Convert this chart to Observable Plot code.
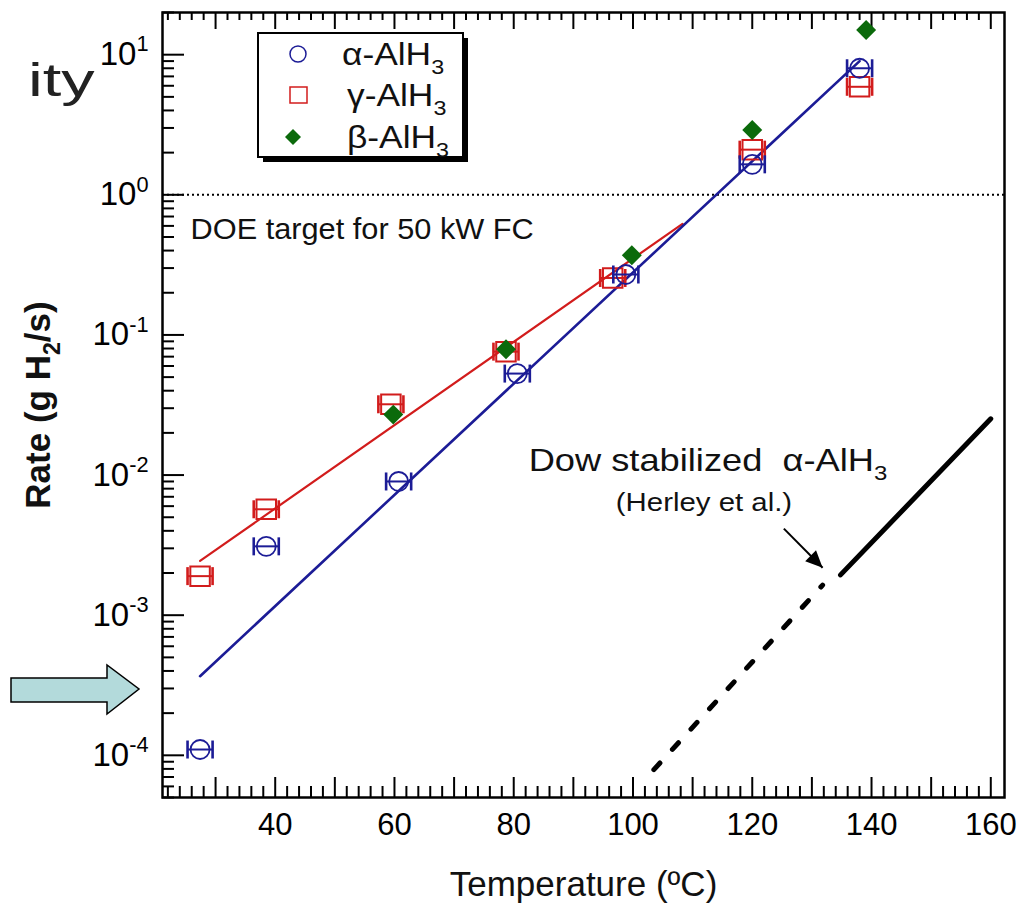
<!DOCTYPE html>
<html><head><meta charset="utf-8">
<script src="https://cdn.jsdelivr.net/npm/d3@7"></script>
<script src="https://cdn.jsdelivr.net/npm/@observablehq/plot@0.6"></script>
<style>
body{margin:0;background:#fff;font-family:"Liberation Sans",Arial,Helvetica,sans-serif;}
#wrap{position:relative;width:1021px;height:905px;overflow:hidden;background:#fff}
#wrap svg{position:absolute;left:0;top:0}
.ov{position:absolute;left:0;top:0;pointer-events:none}
</style></head><body><div id="wrap"></div>
<script>
// ---- data ----
const alphaT    = [27.4, 38.5, 60.7, 80.6, 98.8, 120.0, 138.0];
const alphaRate = [1.1e-4, 3.1e-3, 9.0e-3, 0.053, 0.27, 1.65, 8.0];
const alphaErr  = [2.1, 2.1, 2.1, 2.1, 2.1, 2.1, 2.1];
const gammaT    = [27.4, 38.5, 59.4, 78.7, 96.6, 120.0, 138.0];
const gammaRate = [1.9e-3, 5.7e-3, 0.032, 0.076, 0.255, 2.1, 5.9];
const gammaErr  = [2.1, 2.1, 2.1, 2.1, 2.1, 2.1, 2.1];
const betaT     = [59.8, 78.7, 99.8, 120.0, 139.1];
const betaRate  = [0.027, 0.079, 0.37, 2.9, 15];
const alphaFitT = [27.4, 138.0];
const alphaFitRate = [3.67e-4, 9.0];
const gammaFitT = [27.4, 108.3];
const gammaFitRate = [2.44e-3, 0.62];
const dowDashT = [103.5, 131.8];
const dowDashRate = [7.9e-5, 1.64e-3];
const dowSolidT = [134.8, 160];
const dowSolidRate = [1.94e-3, 0.0252];
const doeTarget = 1;
const xTickLabels = [40, 60, 80, 100, 120, 140, 160];
const xMajor = [30, 40, 50, 60, 70, 80, 90, 100, 110, 120, 130, 140, 150, 160];
const xMinor = d3.range(22, 162, 2).filter(v => v % 10 !== 0);
const yTickLabels = [1e-4, 1e-3, 1e-2, 1e-1, 1, 10];
const yMinor = [];
for (let k = -5; k <= 1; k++) for (let m = 2; m <= 9; m++) { const v = m * Math.pow(10, k); if (v >= 5e-5 && v <= 20) yMinor.push(v); }
const doeLabel = {x: 25.8, y: 0.56, text: "DOE target for 50 kW FC"};
const dowLabel = {x: 82.5, y: 0.0126, text: "Dow stabilized  α-AlH_{3}"};
const herleyLabel = {x: 111.9, y: 6.4e-3, text: "(Herley et al.)"};
const arrowFrom = {x: 125.3, y: 4.15e-3};
const arrowTo = {x: 131.8, y: 2.18e-3};
const legendNames = ["α-AlH_{3}", "γ-AlH_{3}", "β-AlH_{3}"];

// ---- layout ----
const W = 1021, H = 905, mL = 162, mT = 12, mR = 17, mB = 108;
const innerW = W - mL - mR, innerH = H - mT - mB;
const BLUE = "#1c1c96", RED = "#d21c1c", GREEN = "#0b6a0b";
const FONT = "Liberation Sans, Arial, Helvetica, sans-serif";

const alpha = alphaT.map((t, i) => ({t, r: alphaRate[i], e: alphaErr[i]}));
const gamma = gammaT.map((t, i) => ({t, r: gammaRate[i], e: gammaErr[i]}));
const beta = betaT.map((t, i) => ({t, r: betaRate[i]}));
const zip = (a, b) => a.map((t, i) => ({t, r: b[i]}));

const vbar = {draw(ctx, size) { const h = Math.sqrt(size / Math.PI); ctx.moveTo(0, -h); ctx.lineTo(0, h); }};
const headSym = {draw(ctx, size) { const l = Math.sqrt(size / Math.PI); ctx.moveTo(0, 0); ctx.lineTo(-l * 0.45, l); ctx.lineTo(l * 0.45, l); ctx.closePath(); }};

function errMarks(data, color) {
  return [
    Plot.link(data, {x1: d => d.t - d.e, x2: d => d.t + d.e, y1: "r", y2: "r", stroke: color, strokeWidth: 2}),
    Plot.dot(data, {x: d => d.t - d.e, y: "r", symbol: vbar, r: 9, stroke: color, fill: "none", strokeWidth: 2.6}),
    Plot.dot(data, {x: d => d.t + d.e, y: "r", symbol: vbar, r: 9, stroke: color, fill: "none", strokeWidth: 2.6})
  ];
}

const chart = Plot.plot({
  width: W, height: H,
  marginLeft: mL, marginTop: mT, marginRight: mR, marginBottom: mB,
  style: {fontFamily: FONT, background: "transparent", overflow: "visible"},
  x: {domain: [21.1, 162.3]},
  y: {type: "log", domain: [5e-5, 20]},
  marks: [
    // inward ticks
    Plot.tickX(xMajor, {x: d => d, insetTop: innerH - 20, stroke: "#000", strokeWidth: 2}),
    Plot.tickX(xMinor, {x: d => d, insetTop: innerH - 11, stroke: "#000", strokeWidth: 2}),
    Plot.tickX(xMajor, {x: d => d, insetBottom: innerH - 17, stroke: "#000", strokeWidth: 2}),
    Plot.tickX(xMinor, {x: d => d, insetBottom: innerH - 8, stroke: "#000", strokeWidth: 2}),
    Plot.tickY(yTickLabels, {y: d => d, insetRight: innerW - 22, stroke: "#000", strokeWidth: 2}),
    Plot.tickY(yMinor, {y: d => d, insetRight: innerW - 12, stroke: "#000", strokeWidth: 2}),
    Plot.axisX({ticks: xTickLabels, tickSize: 0, tickPadding: 15, fontSize: 31, label: null, tickFormat: d => String(d)}),
    Plot.axisY({ticks: yTickLabels, tickSize: 0, tickPadding: 14, fontSize: 33, label: null,
      tickFormat: d => `10^{${Math.round(Math.log10(d))}}`}),
    Plot.text(["Temperature (ºC)"], {frameAnchor: "bottom", dy: 98, fontSize: 35, fill: "#111"}),
    Plot.text(["Rate (g H_{2}/s)"], {frameAnchor: "left", textAnchor: "middle", dx: -124, rotate: -90, fontSize: 35, fontWeight: "bold", fill: "#111"}),
    // DOE target
    Plot.ruleY([doeTarget], {stroke: "#000", strokeWidth: 2, strokeDasharray: "2,3"}),
    Plot.text([doeLabel], {x: "x", y: "y", text: "text", textAnchor: "start", fontSize: 29, fill: "#111"}),
    // fits
    Plot.line(zip(gammaFitT, gammaFitRate), {x: "t", y: "r", stroke: RED, strokeWidth: 2.2}),
    Plot.line(zip(alphaFitT, alphaFitRate), {x: "t", y: "r", stroke: BLUE, strokeWidth: 2.6}),
    // Dow
    Plot.line(zip(dowDashT, dowDashRate), {x: "t", y: "r", stroke: "#000", strokeWidth: 5, strokeDasharray: "9,18.5", strokeLinecap: "round"}),
    Plot.line(zip(dowSolidT, dowSolidRate), {x: "t", y: "r", stroke: "#000", strokeWidth: 5}),
    Plot.text([dowLabel], {x: "x", y: "y", text: "text", textAnchor: "start", fontSize: 31, fill: "#111"}),
    Plot.text([herleyLabel], {x: "x", y: "y", text: "text", fontSize: 26, fill: "#111"}),
    Plot.link([0], {x1: () => arrowFrom.x, y1: () => arrowFrom.y, x2: () => arrowTo.x, y2: () => arrowTo.y, stroke: "#000", strokeWidth: 2}),
    Plot.dot([0], {x: () => arrowTo.x, y: () => arrowTo.y, symbol: headSym, r: 17, rotate: 135, fill: "#000", stroke: "none"}),
    // gamma
    ...errMarks(gamma, RED),
    Plot.dot(gamma, {x: "t", y: "r", symbol: "square", r: 11, stroke: RED, fill: "none", strokeWidth: 2}),
    // alpha
    ...errMarks(alpha, BLUE),
    Plot.dot(alpha, {x: "t", y: "r", r: 9.5, stroke: BLUE, fill: "none", strokeWidth: 1.8}),
    // beta
    Plot.dot(beta, {x: "t", y: "r", symbol: "diamond2", r: 9, fill: GREEN, stroke: "none"}),
    Plot.frame({stroke: "#000", strokeWidth: 2.5})
  ]
});

const wrap = document.getElementById("wrap");
wrap.appendChild(chart);

function richify(root) {
  d3.select(root).selectAll("text").each(function() {
    const t = this;
    const s = t.textContent;
    if (!/[\^_]\{/.test(s)) return;
    const fs = parseFloat(getComputedStyle(t).fontSize) || 20;
    t.textContent = "";
    const re = /([\^_])\{([^}]*)\}/g;
    let last = 0, m; const parts = [];
    while ((m = re.exec(s))) { if (m.index > last) parts.push({t: s.slice(last, m.index)}); parts.push({t: m[2], k: m[1]}); last = re.lastIndex; }
    if (last < s.length) parts.push({t: s.slice(last)});
    let shift = 0;
    for (const p of parts) {
      const ts = d3.select(t).append("tspan").text(p.t);
      let target = 0;
      if (p.k === "^") { ts.attr("font-size", (fs * 0.66) + "px"); target = -fs * 0.42; }
      else if (p.k === "_") { ts.attr("font-size", (fs * 0.66) + "px"); target = fs * 0.3; }
      const dy = target - shift;
      if (dy !== 0) ts.attr("dy", dy);
      shift = target;
    }
  });
}
// horizontal stretch of some texts (the reference figure is slightly widened)
function stretch(root, prefix, s, rotated) {
  d3.select(root).selectAll("text").each(function() {
    if (!this.textContent.startsWith(prefix)) return;
    const tr = this.getAttribute("transform") || "";
    this.setAttribute("transform", tr + (rotated ? ` scale(1,${s})` : ` scale(${s},1)`));
  });
}
stretch(chart, "Dow", 1.17);
stretch(chart, "(Herley", 1.13);
stretch(chart, "DOE", 1.06);
richify(chart);

// ---- overlays: legend, side text, slide arrow ----
const ov = d3.select(wrap).append("svg").attr("class", "ov").attr("width", W).attr("height", H)
  .style("font-family", FONT);
ov.append("rect").attr("x", 263).attr("y", 38).attr("width", 205).attr("height", 124).attr("fill", "#000");
ov.append("rect").attr("x", 258).attr("y", 33).attr("width", 205).attr("height", 124).attr("fill", "#fff").attr("stroke", "#000").attr("stroke-width", 2);
ov.append("circle").attr("cx", 298).attr("cy", 54).attr("r", 8).attr("fill", "none").attr("stroke", BLUE).attr("stroke-width", 1.5);
ov.append("rect").attr("x", 290).attr("y", 87).attr("width", 17).attr("height", 16).attr("fill", "none").attr("stroke", RED).attr("stroke-width", 1.5);
ov.append("path").attr("d", "M293,129 L301,137 L293,145 L285,137 Z").attr("fill", GREEN);
const legendY = [65, 106, 148];
legendNames.forEach((n, i) => {
  const x = i === 0 ? 342 : 347;
  ov.append("text").attr("x", 0).attr("y", 0).attr("transform", `translate(${x},${legendY[i]}) scale(1.14,1)`)
    .attr("font-size", 31).attr("fill", "#111").text(n);
});
ov.append("text").attr("transform", "translate(28,96) scale(1.45,1)").attr("font-size", 46).attr("fill", "#222").text("ity");
ov.append("path").attr("d", "M11,678 L107,678 L107,665 L139,689 L107,714 L107,702 L11,702 Z")
  .attr("fill", "#b3dadb").attr("stroke", "#000").attr("stroke-width", 1.5);
richify(ov.node());
</script></body></html>
